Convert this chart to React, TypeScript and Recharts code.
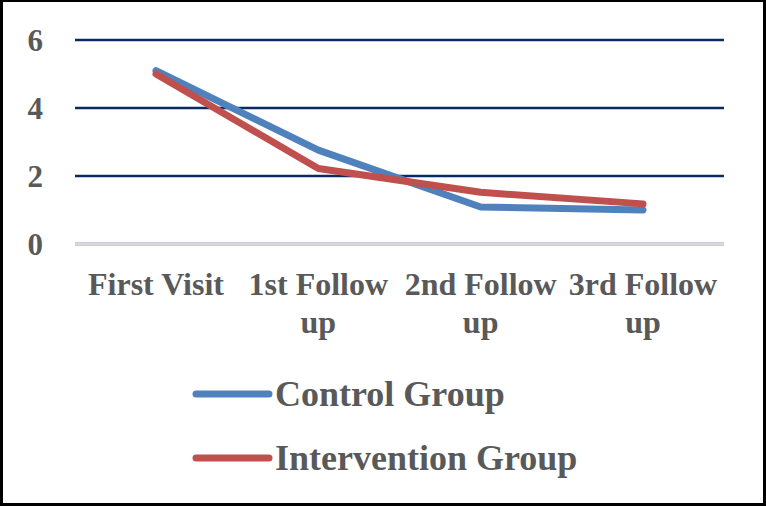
import { LineChart, Line, XAxis, YAxis, CartesianGrid, Legend } from 'recharts';

const visits = ['First Visit', '1st Follow up', '2nd Follow up', '3rd Follow up'];
const controlGroup = [5.1, 2.76, 1.09, 1.0];
const interventionGroup = [5.0, 2.22, 1.52, 1.18];
const yTicks = [0, 2, 4, 6];

const data = visits.map((name, i) => ({
  name,
  control: controlGroup[i],
  intervention: interventionGroup[i],
}));

const FONT = '"Liberation Serif", "Times New Roman", serif';
const TEXT = '#595959';

function VisitTick({ x, y, payload }: any) {
  const label: string = payload.value;
  const lines = label.endsWith(' up') ? [label.slice(0, -3), 'up'] : [label];
  return (
    <text x={x} y={y} textAnchor="middle" fill={TEXT} fontFamily={FONT} fontWeight="bold" fontSize={32}>
      {lines.map((line, i) => (
        <tspan key={i} x={x} dy={i === 0 ? 51 : 38}>
          {line}
        </tspan>
      ))}
    </text>
  );
}

function LegendBox({ payload }: any) {
  return (
    <div style={{ position: 'relative', height: 140 }}>
      {(payload || []).map((item: any, i: number) => (
        <div
          key={item.value}
          style={{ position: 'absolute', left: 190, top: 17 + i * 64, height: 42, display: 'flex', alignItems: 'center' }}
        >
          <svg width={84} height={12} style={{ display: 'block' }}>
            <line x1={6} y1={6} x2={79} y2={6} stroke={item.color} strokeWidth={7} strokeLinecap="round" />
          </svg>
          <span style={{ fontFamily: FONT, fontWeight: 'bold', fontSize: 36, color: TEXT, marginLeft: 1, lineHeight: '42px' }}>
            {item.value}
          </span>
        </div>
      ))}
    </div>
  );
}

export default function App() {
  return (
    <div
      style={{
        position: 'absolute',
        left: 0,
        top: 0,
        width: 766,
        height: 506,
        boxSizing: 'border-box',
        borderStyle: 'solid',
        borderColor: '#000',
        borderWidth: '2px 3px 3px 3px',
        background: '#fff',
      }}
    >
      <div style={{ position: 'absolute', left: -3, top: -2 }}>
        <LineChart width={766} height={506} data={data} margin={{ top: 40, right: 42, bottom: 10, left: 0 }}>
          <CartesianGrid vertical={false} stroke="#0b2a63" strokeWidth={2.5} />
          <XAxis
            dataKey="name"
            interval={0}
            tick={<VisitTick />}
            tickLine={false}
            tickSize={0}
            tickMargin={0}
            height={112}
            padding={{ left: 81, right: 81 }}
            axisLine={{ stroke: '#d9d9d9', strokeWidth: 2.5 }}
          />
          <YAxis
            domain={[0, 6]}
            ticks={yTicks}
            width={75}
            axisLine={false}
            tickLine={false}
            tickSize={0}
            tickMargin={32}
            tick={{ fill: TEXT, fontFamily: FONT, fontWeight: 'bold', fontSize: 31 }}
          />
          <Legend verticalAlign="bottom" height={140} content={<LegendBox />} />
          <Line
            type="linear"
            dataKey="control"
            name="Control Group"
            stroke="#4f81bd"
            strokeWidth={7}
            strokeLinecap="round"
            strokeLinejoin="round"
            dot={false}
            isAnimationActive={false}
          />
          <Line
            type="linear"
            dataKey="intervention"
            name="Intervention Group"
            stroke="#c0504d"
            strokeWidth={7}
            strokeLinecap="round"
            strokeLinejoin="round"
            dot={false}
            isAnimationActive={false}
          />
        </LineChart>
      </div>
    </div>
  );
}
